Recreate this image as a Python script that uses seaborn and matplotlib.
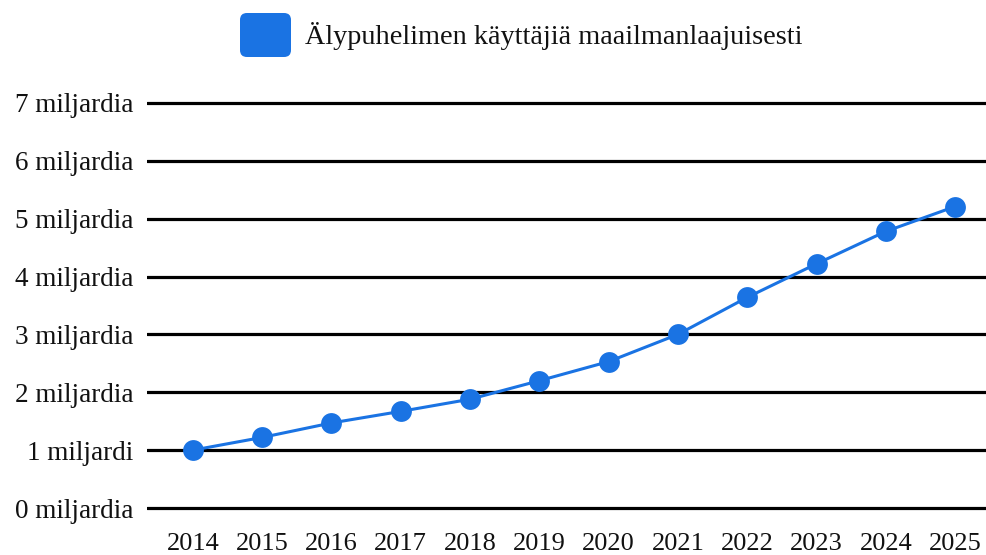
import matplotlib
matplotlib.use("Agg")
import matplotlib.pyplot as plt
import seaborn as sns
import pandas as pd
from matplotlib.patches import FancyBboxPatch

years = [2014, 2015, 2016, 2017, 2018, 2019, 2020, 2021, 2022, 2023, 2024, 2025]
users_billion = [1.0, 1.22, 1.47, 1.67, 1.88, 2.2, 2.53, 3.0, 3.64, 4.22, 4.78, 5.21]
ytick_values = [0, 1, 2, 3, 4, 5, 6, 7]
ytick_labels = ["0 miljardia", "1 miljardi", "2 miljardia", "3 miljardia",
                "4 miljardia", "5 miljardia", "6 miljardia", "7 miljardia"]
series_name = "Älypuhelimen käyttäjiä maailmanlaajuisesti"

sns.set_theme(style="white")
plt.rcParams['font.family'] = ['Liberation Serif', 'DejaVu Serif']

df = pd.DataFrame({"year": years, "users": users_billion})
color = "#1a73e3"

W, H = 987, 555
fig = plt.figure(figsize=(W / 100, H / 100), dpi=100)
ax = fig.add_axes([0.149, 0.0742, 0.851, 0.7508])

for v in ytick_values:
    ax.axhline(v, color="black", lw=2.3, zorder=1)

sns.lineplot(data=df, x="year", y="users", ax=ax, color=color, lw=2.2,
             marker="o", markersize=15, markeredgewidth=0, zorder=3)

ax.set_xlim(2013.34, 2025.46)
ax.set_ylim(-0.1, 7.1)
ax.set_yticks(ytick_values)
ax.set_yticklabels(ytick_labels)
ax.set_xticks(years)
ax.set_xticklabels([str(y) for y in years])
ax.tick_params(axis="y", length=0, pad=10, labelsize=19.5, colors="#111111")
ax.tick_params(axis="x", length=0, pad=14, labelsize=19, colors="#111111")
ax.set_xlabel("")
ax.set_ylabel("")
for s in ax.spines.values():
    s.set_visible(False)
ax.grid(False)

# legend: rounded square swatch + label
sw_x0, sw_x1, sw_y0, sw_y1 = 240, 291, 13, 57
patch = FancyBboxPatch((sw_x0 / W, 1 - sw_y1 / H), (sw_x1 - sw_x0) / W, (sw_y1 - sw_y0) / H,
                       boxstyle="round,pad=0,rounding_size=0.007",
                       transform=fig.transFigure, facecolor=color, edgecolor="none",
                       mutation_aspect=W / H)
fig.patches.append(patch)
fig.text(305 / W, 1 - 36 / H, series_name, fontsize=20.3, color="#111111",
         ha="left", va="center")

fig.savefig("out.png", dpi=100)
